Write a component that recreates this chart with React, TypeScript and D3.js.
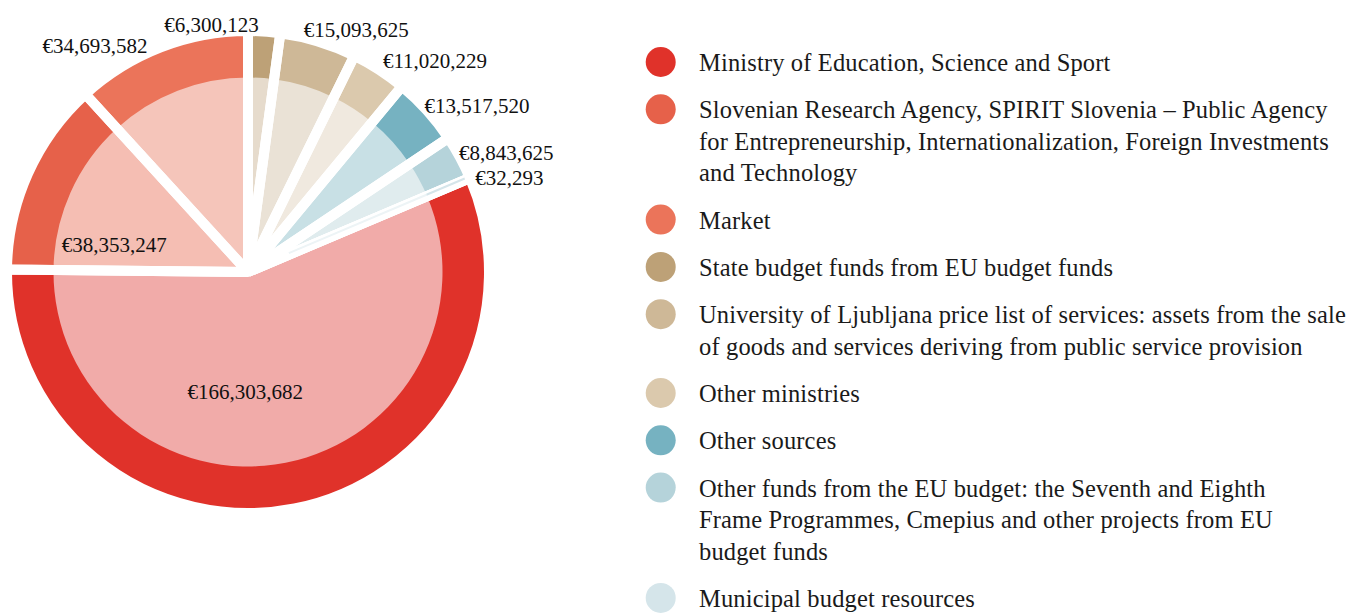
import React from "react";
import * as d3 from "d3";

// ---------- data ----------
const categories = [
  "Ministry of Education, Science and Sport",
  "Slovenian Research Agency, SPIRIT Slovenia – Public Agency for Entrepreneurship, Internationalization, Foreign Investments and Technology",
  "Market",
  "State budget funds from EU budget funds",
  "University of Ljubljana price list of services: assets from the sale of goods and services deriving from public service provision",
  "Other ministries",
  "Other sources",
  "Other funds from the EU budget: the Seventh and Eighth Frame Programmes, Cmepius and other projects from EU budget funds",
  "Municipal budget resources",
];

const legendLines = [
  ["Ministry of Education, Science and Sport"],
  [
    "Slovenian Research Agency, SPIRIT Slovenia – Public Agency",
    "for Entrepreneurship, Internationalization, Foreign Investments",
    "and Technology",
  ],
  ["Market"],
  ["State budget funds from EU budget funds"],
  [
    "University of Ljubljana price list of services: assets from the sale",
    "of goods and services deriving from public service provision",
  ],
  ["Other ministries"],
  ["Other sources"],
  [
    "Other funds from the EU budget: the Seventh and Eighth",
    "Frame Programmes, Cmepius and other projects from EU",
    "budget funds",
  ],
  ["Municipal budget resources"],
];

const values = [
  166303682, 38353247, 34693582, 6300123, 15093625, 11020229, 13517520, 8843625, 32293,
];

// index of the slice that starts at 12 o'clock
const firstSliceIndex = 3;

// ---------- styles ----------
const ringColors = [
  "#E0322A", "#E6614A", "#EB745A", "#BDA177", "#CEB897", "#DBC9AD", "#76B2C1", "#B5D3DA", "#D5E5EA",
];
const fillColors = [
  "#F1ABA9", "#F5BEB3", "#F5C5BA", "#E6DBCC", "#EAE2D6", "#F0E9DF", "#C8E0E5", "#E0ECEE", "#EDF4F6",
];

// label placement: radius along the slice mid-angle, anchor and a small nudge
const labelPlace = [
  { r: 130, anchor: "middle", dx: -28, dy: -8 },
  { r: 130, anchor: "middle", dx: -15, dy: 26 },
  { r: 250, anchor: "end", dx: -10, dy: 7 },
  { r: 250, anchor: "end", dx: -6, dy: 2 },
  { r: 250, anchor: "start", dx: -17, dy: -3 },
  { r: 250, anchor: "start", dx: -1, dy: -1 },
  { r: 250, anchor: "start", dx: -9, dy: 1 },
  { r: 250, anchor: "start", dx: -9, dy: 0 },
  { r: 250, anchor: "start", dx: -3, dy: 3 },
];

const W = 1357;
const H = 614;
const cx = 248;
const cy = 272;
const R = 241;
const rIn = 194.5;
const gap = 10;
const FONT = "'Liberation Serif', 'Times New Roman', serif";

export default function App() {
  const total = d3.sum(values);
  const offset = (d3.sum(values.slice(0, firstSliceIndex)) / total) * 2 * Math.PI;
  const pie = d3
    .pie<number>()
    .sort(null)
    .value((d) => d)
    .startAngle(-offset)
    .endAngle(2 * Math.PI - offset);
  const arcs = pie(values);
  const full = d3.arc<d3.PieArcDatum<number>>().innerRadius(0).outerRadius(R);
  const ring = d3.arc<d3.PieArcDatum<number>>().innerRadius(rIn).outerRadius(R);
  const fmt = d3.format(",");

  const tinyThreshold = (1 * Math.PI) / 180;

  // legend layout
  const legendX = 660.7;
  const legendTextX = 699;
  const firstBaseline = 71;
  const itemGap = 47.3;
  const lineH = 31.5;
  let yCursor = firstBaseline;
  const legendItems = legendLines.map((lines, i) => {
    const y = yCursor;
    yCursor += itemGap + (lines.length - 1) * lineH;
    return { lines, y, i };
  });

  return (
    <svg
      width={W}
      height={H}
      style={{ position: "absolute", left: 0, top: 0, background: "#fff" }}
      fontFamily={FONT}
    >
      <g transform={`translate(${cx},${cy})`}>
        {arcs.map((a, i) => (
          <g key={"s" + i}>
            <path d={full(a) || ""} fill={fillColors[i]} />
            <path d={ring(a) || ""} fill={ringColors[i]} />
          </g>
        ))}
        {arcs.map((a, i) => (
          <path
            key={"o" + i}
            d={full(a) || ""}
            fill="none"
            stroke="#fff"
            strokeWidth={gap}
            strokeLinejoin="bevel"
          />
        ))}
        {arcs
          .map((a, i) => ({ a, i }))
          .filter(({ a }) => a.endAngle - a.startAngle < tinyThreshold)
          .map(({ a, i }) => {
            const ang = a.startAngle;
            const ux = Math.sin(ang);
            const uy = -Math.cos(ang);
            const px = -Math.cos(ang) * 1.5;
            const py = -Math.sin(ang) * 1.5;
            const pt = (r: number) => [ux * r + px, uy * r + py];
            const [x0, y0] = pt(45);
            const [x1, y1] = pt(rIn);
            const [x2, y2] = pt(R - gap / 2);
            return (
              <g key={"t" + i}>
                <line x1={x0} y1={y0} x2={x1} y2={y1} stroke={fillColors[i]} strokeWidth={2} />
                <line x1={x1} y1={y1} x2={x2} y2={y2} stroke={ringColors[i]} strokeWidth={2} />
              </g>
            );
          })}
        {arcs.map((a, i) => {
          const mid = (a.startAngle + a.endAngle) / 2;
          const p = labelPlace[i];
          const x = Math.sin(mid) * p.r + p.dx;
          const y = -Math.cos(mid) * p.r + p.dy;
          return (
            <text
              key={"l" + i}
              x={x}
              y={y + 7}
              textAnchor={p.anchor as any}
              fontSize={21}
              fill="#111"
            >
              {"€" + fmt(values[i])}
            </text>
          );
        })}
      </g>
      {legendItems.map(({ lines, y, i }) => (
        <g key={"g" + i}>
          <circle cx={legendX} cy={y - 9} r={15} fill={ringColors[i]}>
            <title>{categories[i]}</title>
          </circle>
          {lines.map((t, j) => (
            <text
              key={j}
              x={legendTextX}
              y={y + j * lineH}
              fontSize={24.5}
              letterSpacing={0.15}
              fill="#1a1a1a"
            >
              {t}
            </text>
          ))}
        </g>
      ))}
    </svg>
  );
}
